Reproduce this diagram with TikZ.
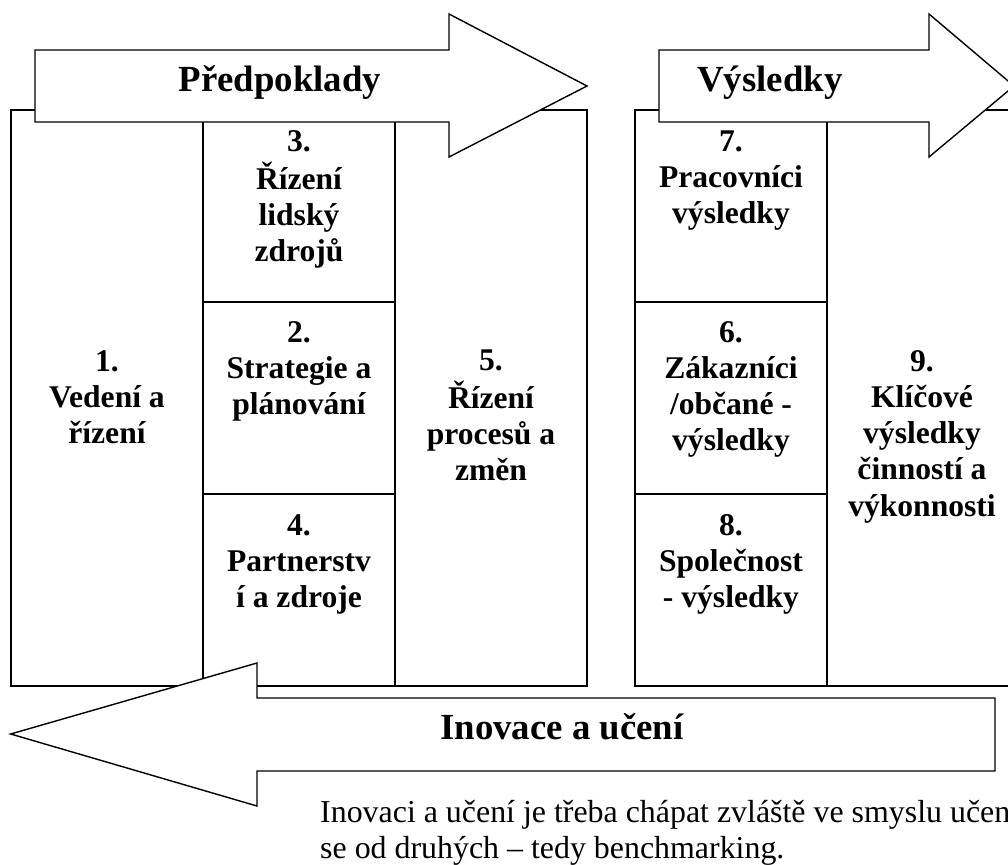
\documentclass[tikz,border=0pt]{standalone}
\usepackage{fontspec}
\setmainfont{Liberation Serif}
% stacked, centred lines whose baseline is the first line's baseline
\newcommand\cellstack[1]{\begin{tabular}[t]{@{}c@{}}#1\end{tabular}}
\newcommand\notestack[1]{\begin{tabular}[t]{@{}l@{}}#1\end{tabular}}
\begin{document}
\begin{tikzpicture}[x=1pt,y=-1pt,
  frame/.style={draw=black,line width=1.7pt},
  bigarrow/.style={draw=black,fill=white,line width=1.4pt,line join=miter},
  celltext/.style={anchor=base,inner sep=0pt,font=\bfseries\fontsize{31.6}{36.3}\selectfont},
  heading/.style={anchor=base,inner sep=0pt,font=\bfseries\fontsize{36.8}{42}\selectfont},
  note/.style={anchor=base west,inner sep=0pt,font=\fontsize{31.9}{36.3}\selectfont}]
\useasboundingbox (0,0) rectangle (1008,864);
\clip (0,0) rectangle (1008,864);
\fill[white] (0,0) rectangle (1008,864);

% enablers block
\draw[frame] (10.7,110) rectangle (587,686);
\draw[frame] (203,110) -- (203,686);
\draw[frame] (395,110) -- (395,686);
\draw[frame] (203,302) -- (395,302);
\draw[frame] (203,494) -- (395,494);

% results block
\draw[frame] (635,110) rectangle (1020,686);
\draw[frame] (827,110) -- (827,686);
\draw[frame] (635,302) -- (827,302);
\draw[frame] (635,494) -- (827,494);

% block arrows
\draw[bigarrow] (35,50) -- (449,50) -- (449,14) -- (587,86) -- (449,157) -- (449,122) -- (35,122) -- cycle;
\draw[bigarrow] (659,50) -- (929,50) -- (929,14) -- (1014,86) -- (929,157) -- (929,122) -- (659,122) -- cycle;
\draw[bigarrow] (995,698) -- (257,698) -- (257,663) -- (10.7,734) -- (257,806) -- (257,771) -- (995,771) -- cycle;

% arrow captions
\node[heading] (tpred) at (280,92) {Předpoklady};
\node[heading] (tvys) at (770,92) {Výsledky};
\node[heading] (tinov) at (562,739) {Inovace a učení};

% criteria
\node[celltext] (c1) at (107,371) {\cellstack{1.\\ Vedení a\\ řízení}};
\node[celltext] (c3) at (299,151) {\cellstack{3.\\ Řízení\\ lidský\\ zdrojů}};
\node[celltext] (c2) at (299,342) {\cellstack{2.\\ Strategie a\\ plánování}};
\node[celltext] (c4) at (299,535) {\cellstack{4.\\ Partnerstv\\ í a zdroje}};
\node[celltext] (c5) at (491,370) {\cellstack{5.\\ Řízení\\ procesů a\\ změn}};
\node[celltext] (c7) at (731,151) {\cellstack{7.\\ Pracovníci\\ výsledky}};
\node[celltext] (c6) at (731,342) {\cellstack{6.\\ Zákazníci\\ /občané -\\ výsledky}};
\node[celltext] (c8) at (731,535) {\cellstack{8.\\ Společnost\\ - výsledky}};
\node[celltext] (c9) at (922,371) {\cellstack{9.\\ Klíčové\\ výsledky\\ činností a\\ výkonnosti}};

% explanatory note
\node[note] (remark) at (320,822) {\notestack{Inovaci a učení je třeba chápat zvláště ve smyslu učení\\ se od druhých – tedy benchmarking.}};
\end{tikzpicture}
\end{document}
